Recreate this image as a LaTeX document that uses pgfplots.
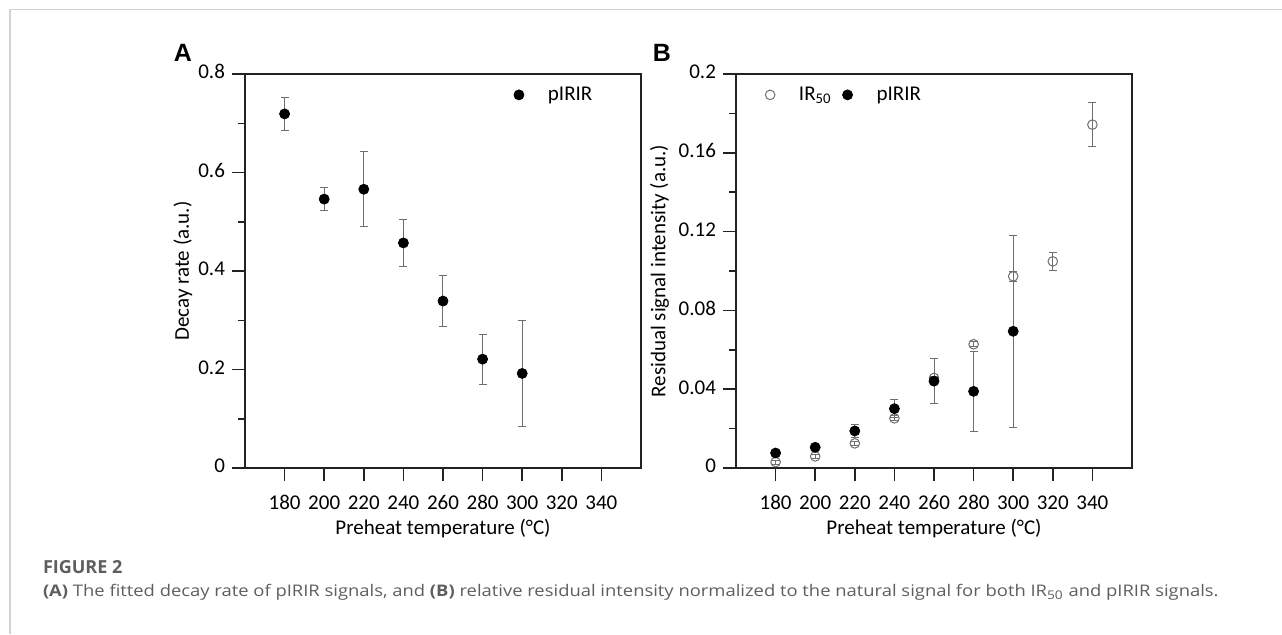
\documentclass[border=0pt]{standalone}
\usepackage{fontspec}
\setmainfont{Carlito}[Numbers=Lining]
\newfontfamily\capfont[FakeStretch=1.15]{Open Sans}
\newfontfamily\figfont{Open Sans}
\newfontfamily\letterfont{Liberation Sans}
\usepackage{pgfplots}
\pgfplotsset{compat=1.18}
\usepackage{pgfplotstable}

\definecolor{axcol}{HTML}{222222}
\definecolor{errcol}{HTML}{6E6E6E}
\definecolor{capgray}{HTML}{5E5E5E}

\pgfplotstableread{
T v e
180 0.719 0.034
200 0.546 0.024
220 0.566 0.076
240 0.457 0.047
260 0.339 0.051
280 0.221 0.051
300 0.192 0.107
}\decayP

\pgfplotstableread{
T v e
180 0.0030 0.0010
200 0.0059 0.0010
220 0.0125 0.0012
240 0.0252 0.0012
260 0.0457 0.0010
280 0.0628 0.0013
300 0.0973 0.0025
320 0.1049 0.0047
340 0.1743 0.0113
}\resIR

\pgfplotstableread{
T v e
180 0.0076 0.0006
200 0.0105 0.0006
220 0.0188 0.0035
240 0.0301 0.0046
260 0.0441 0.0114
280 0.0389 0.0203
300 0.0694 0.0488
}\resP

\pgfplotsset{
  common/.style={
    scale only axis,
    width=198pt, height=197pt,
    xmin=160, xmax=360,
    xtick={180,200,...,340},
    tick pos=left,
    tick align=outside,
    major tick length=6.5pt,
    minor tick length=3.5pt,
    minor y tick num=1,
    axis line style={axcol, line width=0.75pt},
    every tick/.style={axcol, line width=0.75pt},
    font=\fontsize{10.5}{12}\selectfont,
    tick label style={font=\fontsize{10.5}{12}\selectfont},
    /pgf/number format/assume math mode=true,
    typeset ticklabels with strut,
    xticklabel style={yshift=-2.5pt},
    xlabel={Preheat temperature (°C)},
    xlabel style={at={(axis description cs:0.5,-0.154)}, anchor=center},
    error bars/error bar style={errcol, line width=0.5pt},
    error bars/error mark options={errcol, rotate=90, mark size=2pt, line width=0.5pt},
    legend style={draw=none, fill=none, font=\fontsize{10.5}{12}\selectfont,
      /tikz/every odd column/.append style={column sep=10pt},
      /tikz/every even column/.append style={column sep=3.5pt}},
  },
}

\begin{document}
\begin{tikzpicture}
\useasboundingbox (0,0) rectangle (641pt,317pt);
\draw[gray!35, line width=0.6pt] (5pt,0) -- (5pt,312.3pt) -- (641pt,312.3pt);

\begin{axis}[common,
  at={(122.5pt,83pt)}, anchor=south west,
  ymin=0, ymax=0.8,
  ytick={0,0.2,0.4,0.6,0.8},
  yticklabels={0,0.2,0.4,0.6,0.8},
  ylabel={Decay rate (a.u.)},
  ylabel style={at={(axis description cs:-0.157,0.5)}, anchor=center},
  legend style={at={(axis description cs:0.663,0.947)}, anchor=west},
]
\addplot[only marks, mark=*, mark size=2.5pt, black,
  error bars/.cd, y dir=both, y explicit]
  table[x=T, y=v, y error=e] {\decayP};
\addlegendentry{pIRIR}
\end{axis}

\begin{axis}[common,
  at={(368pt,83pt)}, anchor=south west,
  ymin=0, ymax=0.2,
  ytick={0,0.04,0.08,0.12,0.16,0.2},
  yticklabels={0,0.04,0.08,0.12,0.16,0.2},
  ylabel={Residual signal intensity (a.u.)},
  ylabel style={at={(axis description cs:-0.193,0.5)}, anchor=center},
  legend style={at={(axis description cs:0.058,0.947)}, anchor=west},
  legend columns=-1,
]
\addplot[only marks, mark=o, mark size=2.4pt, mark options={line width=0.5pt, draw=errcol},
  error bars/.cd, y dir=both, y explicit]
  table[x=T, y=v, y error=e] {\resIR};
\addlegendentry{IR\textsubscript{50}}
\addplot[only marks, mark=*, mark size=2.5pt, black,
  error bars/.cd, y dir=both, y explicit]
  table[x=T, y=v, y error=e] {\resP};
\addlegendentry{pIRIR}
\end{axis}

\node[font=\letterfont\bfseries\fontsize{12.5}{14}\selectfont] at (91.5pt,290.5pt) {A};
\node[font=\letterfont\bfseries\fontsize{12.5}{14}\selectfont] at (331pt,290.5pt) {B};

\node[anchor=base west, text=capgray, font=\figfont\bfseries\fontsize{9}{10}\selectfont, inner sep=0pt] at (21.3pt,30.5pt) {FIGURE 2};
\node[anchor=base west, text=capgray, font=\capfont\fontsize{8}{9}\selectfont, inner sep=0pt] at (21.3pt,19pt)
  {\textbf{(A)} The fitted decay rate of pIRIR signals, and \textbf{(B)} relative residual intensity normalized to the natural signal for both IR\textsubscript{50} and pIRIR signals.};
\end{tikzpicture}
\end{document}
